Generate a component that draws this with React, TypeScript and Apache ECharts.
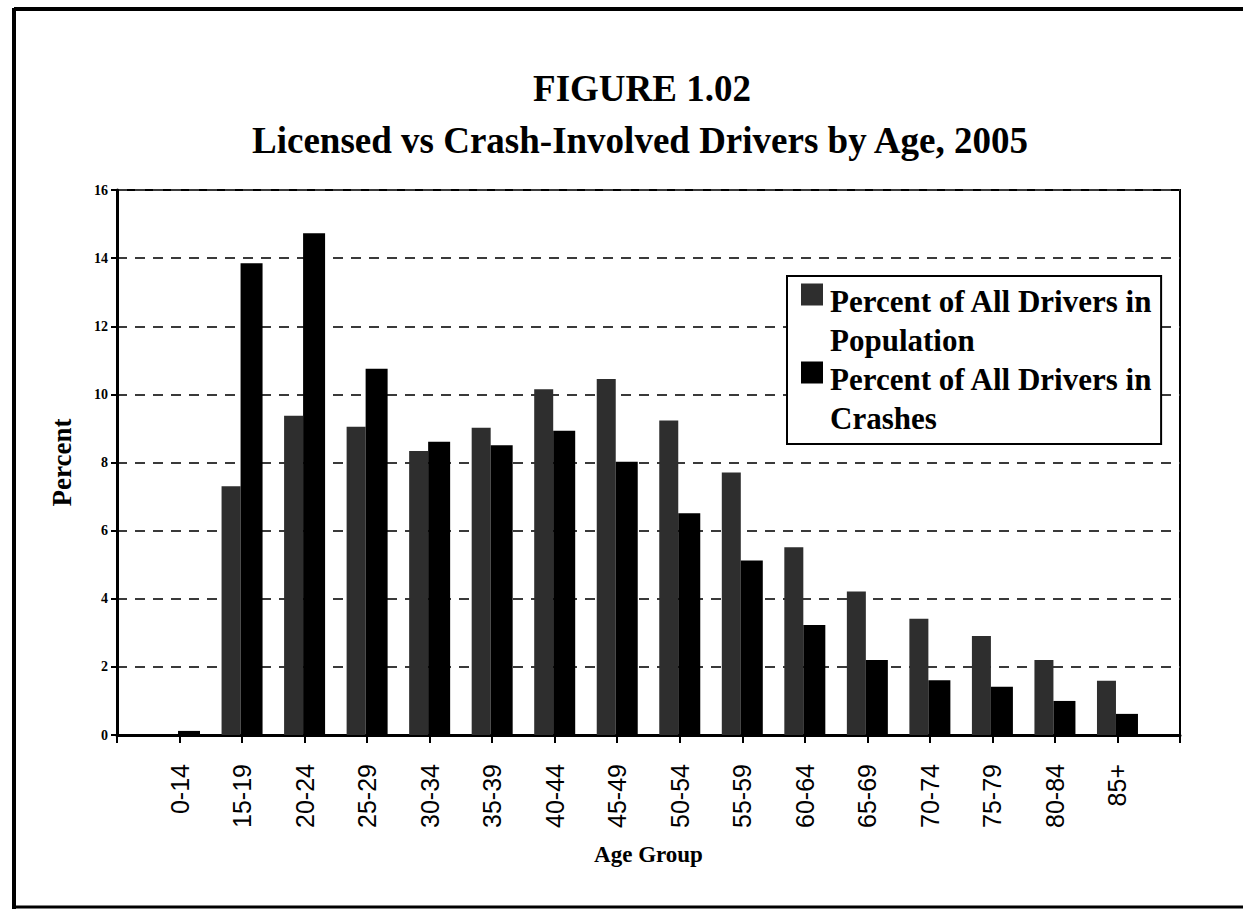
import React, { useEffect, useRef } from "react";
import * as echarts from "echarts";

const ageGroups = ["0-14", "15-19", "20-24", "25-29", "30-34", "35-39", "40-44", "45-49", "50-54", "55-59", "60-64", "65-69", "70-74", "75-79", "80-84", "85+"];
const populationPct = [0, 7.3, 9.37, 9.05, 8.34, 9.02, 10.15, 10.45, 9.23, 7.71, 5.51, 4.21, 3.41, 2.91, 2.2, 1.59];
const crashPct = [0.12, 13.85, 14.73, 10.75, 8.61, 8.51, 8.93, 8.02, 6.51, 5.12, 3.23, 2.2, 1.61, 1.42, 1.0, 0.62];
const yTicks = { min: 0, max: 16, interval: 2 };
const titleLine1 = "FIGURE 1.02";
const titleLine2 = "Licensed vs Crash-Involved Drivers by Age, 2005";
const seriesNames = ["Percent of All Drivers in Population", "Percent of All Drivers in Crashes"];

const SERIF = "'Liberation Serif', 'Times New Roman', serif";
const SANS = "'Liberation Sans', Arial, sans-serif";
const legendIcon = "path://M0,0H22V22H0Z M0,75H0.05V75.05H0Z";

export default function App() {
  const ref = useRef<HTMLDivElement>(null);
  useEffect(() => {
    document.body.style.margin = "0";
    const chart = echarts.init(ref.current!, null, { renderer: "svg" });
    const axisCats = ["", ...ageGroups, ""];
    const pad = (arr: number[]) => [null, ...arr, null];
    chart.setOption({
      animation: false,
      backgroundColor: "#fff",
      graphic: [
        { type: "line", shape: { x1: 14, y1: 9, x2: 1243, y2: 9 }, style: { stroke: "#000", lineWidth: 4 } },
        { type: "line", shape: { x1: 14, y1: 8, x2: 14, y2: 909 }, style: { stroke: "#000", lineWidth: 4 } },
        { type: "line", shape: { x1: 12, y1: 907, x2: 1243, y2: 907 }, style: { stroke: "#000", lineWidth: 3 } },
        {
          type: "text", x: 642, y: 88,
          style: { text: titleLine1, font: `bold 37px ${SERIF}`, fill: "#000", align: "center", verticalAlign: "middle" },
        },
        {
          type: "text", x: 640, y: 140,
          style: { text: titleLine2, font: `bold 37px ${SERIF}`, fill: "#000", align: "center", verticalAlign: "middle" },
        },
      ],
      legend: {
        orient: "vertical",
        left: 787,
        top: 276,
        padding: [6, 8, 6, 14],
        backgroundColor: "#fff",
        borderColor: "#000",
        borderWidth: 2,
        itemWidth: 22,
        itemHeight: 76,
        itemGap: 0,
        icon: legendIcon,
        formatter: (name: string) => name.replace(" in ", " in\n"),
        textStyle: { fontFamily: SERIF, fontWeight: "bold", fontSize: 31, lineHeight: 39, color: "#000", padding: [0, 0, 0, 2] },
        data: seriesNames,
      },
      grid: {
        left: 117, right: 63, top: 190, bottom: 176,
        show: true, borderColor: "#000", borderWidth: 2, backgroundColor: "transparent",
      },
      xAxis: {
        type: "category",
        data: axisCats,
        boundaryGap: false,
        name: "Age Group",
        nameLocation: "middle",
        nameGap: 108,
        nameTextStyle: { fontFamily: SERIF, fontWeight: "bold", fontSize: 23, color: "#000" },
        axisLine: { lineStyle: { color: "#000", width: 3 } },
        axisTick: { show: true, interval: 0, length: 8, lineStyle: { color: "#000", width: 2 } },
        axisLabel: { interval: 0, rotate: 90, margin: 29, fontFamily: SANS, fontSize: 25, color: "#000" },
        splitLine: { show: false },
      },
      yAxis: {
        type: "value",
        min: yTicks.min,
        max: yTicks.max,
        interval: yTicks.interval,
        name: "Percent",
        nameLocation: "middle",
        nameRotate: 90,
        nameGap: 42,
        nameTextStyle: { fontFamily: SERIF, fontWeight: "bold", fontSize: 27, color: "#000" },
        axisLine: { show: true, lineStyle: { color: "#000", width: 3 } },
        axisTick: { show: true, length: 6, lineStyle: { color: "#000", width: 2 } },
        axisLabel: { fontFamily: SERIF, fontSize: 14, fontWeight: "bold", color: "#000", margin: 9 },
        splitLine: { show: true, lineStyle: { color: "#3a3a3a", width: 2, type: [10, 8] } },
      },
      series: [
        {
          name: seriesNames[0],
          type: "bar",
          data: pad(populationPct),
          barWidth: 19,
          barGap: "0%",
          itemStyle: { color: "#2e2e2e" },
        },
        {
          name: seriesNames[1],
          type: "bar",
          data: pad(crashPct),
          barWidth: 22,
          barGap: "0%",
          itemStyle: { color: "#000" },
        },
      ],
    });
    return () => chart.dispose();
  }, []);
  return <div ref={ref} style={{ width: 1243, height: 911 }} />;
}
